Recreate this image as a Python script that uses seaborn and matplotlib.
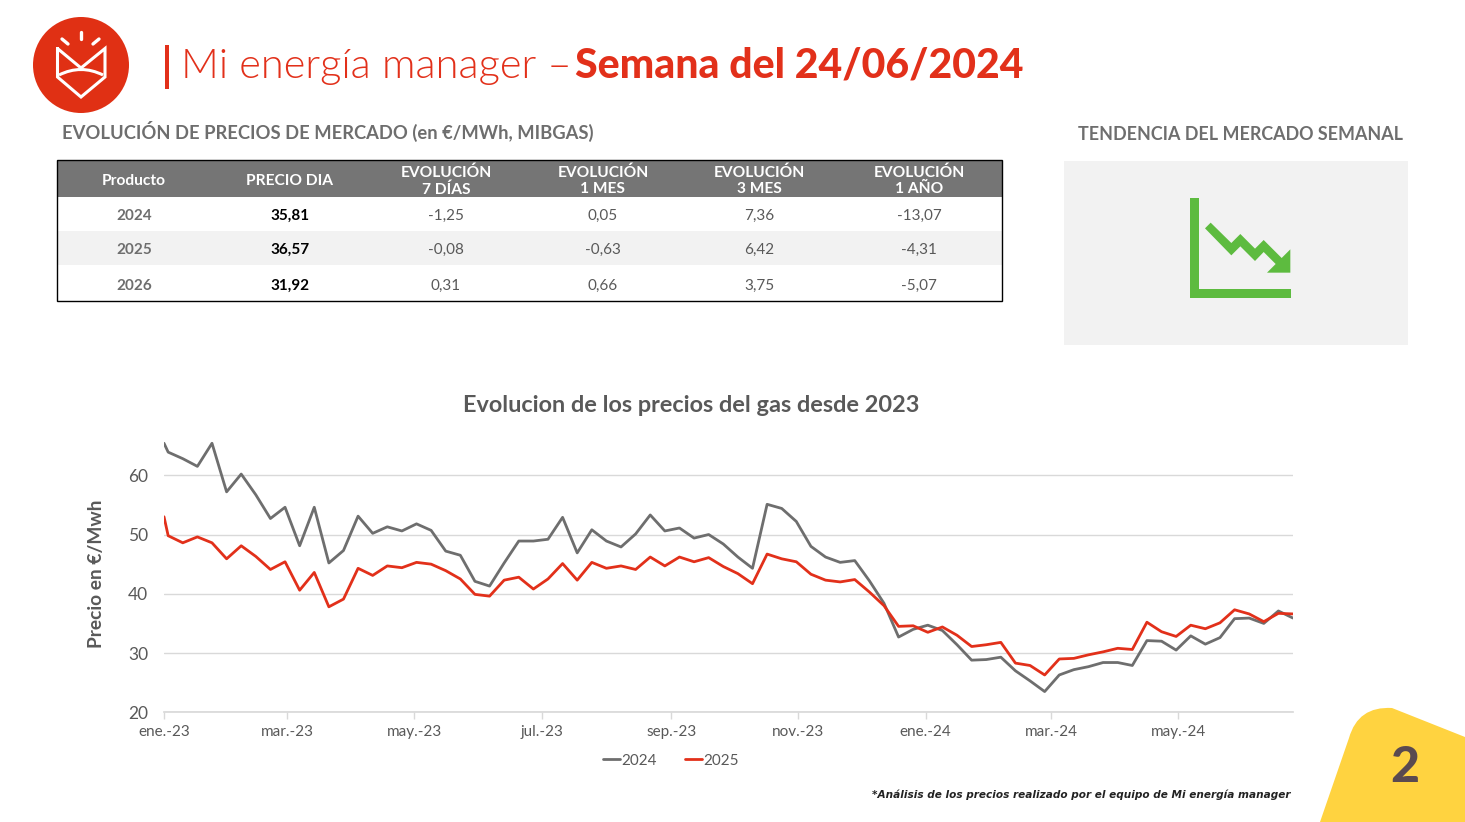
import matplotlib
matplotlib.use('Agg')
import matplotlib.pyplot as plt
from matplotlib.patches import Circle, Polygon, Rectangle, PathPatch
from matplotlib.path import Path
import seaborn as sns
import pandas as pd

##################################
# data

first_date = '2023-01-01'
week_start = '2023-01-03'

prices_2024 = [65.4, 63.9, 62.8, 61.5, 65.4, 57.2, 60.2, 56.7, 52.7, 54.6,
               48.1, 54.6, 45.2, 47.3, 53.1, 50.2, 51.3, 50.6, 51.8, 50.7,
               47.2, 46.5, 42.1, 41.3, 45.2, 48.9, 48.9, 49.2, 52.9, 46.9,
               50.8, 48.9, 47.9, 50.1, 53.3, 50.6, 51.1, 49.4, 50.0, 48.4,
               46.2, 44.3, 55.1, 54.4, 52.2, 48.0, 46.2, 45.3, 45.6, 42.2,
               38.4, 32.7, 34.0, 34.7, 33.8, 31.4, 28.8, 28.9, 29.3, 27.0,
               25.3, 23.5, 26.3, 27.2, 27.7, 28.4, 28.4, 27.9, 32.1, 32.0,
               30.5, 32.9, 31.5, 32.6, 35.8, 35.9, 35.0, 37.1, 35.9]

prices_2025 = [53.0, 49.8, 48.6, 49.6, 48.6, 45.9, 48.1, 46.3, 44.1, 45.4,
               40.6, 43.6, 37.8, 39.1, 44.3, 43.1, 44.7, 44.4, 45.3, 45.0,
               43.9, 42.5, 39.9, 39.6, 42.3, 42.8, 40.8, 42.5, 45.1, 42.3,
               45.3, 44.3, 44.7, 44.1, 46.2, 44.7, 46.2, 45.4, 46.1, 44.6,
               43.4, 41.7, 46.7, 45.9, 45.4, 43.3, 42.3, 42.0, 42.4, 40.3,
               38.0, 34.5, 34.6, 33.5, 34.4, 33.0, 31.1, 31.4, 31.8, 28.3,
               27.9, 26.3, 29.0, 29.1, 29.7, 30.2, 30.8, 30.6, 35.2, 33.6,
               32.8, 34.7, 34.1, 35.1, 37.3, 36.6, 35.3, 36.7, 36.6]

month_ticks = ['2023-01-01', '2023-03-01', '2023-05-01', '2023-07-01', '2023-09-01',
               '2023-11-01', '2024-01-01', '2024-03-01', '2024-05-01']
month_labels = ['ene.-23', 'mar.-23', 'may.-23', 'jul.-23', 'sep.-23',
                'nov.-23', 'ene.-24', 'mar.-24', 'may.-24']
y_ticks = [20, 30, 40, 50, 60]

table_header = ['Producto', 'PRECIO DIA', 'EVOLUCIÓN\n7 DÍAS', 'EVOLUCIÓN\n1 MES',
                'EVOLUCIÓN\n3 MES', 'EVOLUCIÓN\n1 AÑO']
table_rows = [['2024', '35,81', '-1,25', '0,05', '7,36', '-13,07'],
              ['2025', '36,57', '-0,08', '-0,63', '6,42', '-4,31'],
              ['2026', '31,92', '0,31', '0,66', '3,75', '-5,07']]

##################################

RED = '#E2301A'
GRAY = '#6E6E6E'
TEXT = '#595959'
W, H = 1465, 822

sns.set_theme(style='white')
plt.rcParams['font.family'] = ['Lato', 'DejaVu Sans']

fig = plt.figure(figsize=(W / 100, H / 100), dpi=100)

# page layer in pixel coordinates
bg = fig.add_axes([0, 0, 1, 1])
bg.set_xlim(0, W)
bg.set_ylim(H, 0)
bg.axis('off')


def draw_logo(ax):
    ax.add_patch(Circle((81, 65), 48, color='#E03014', lw=0))
    crown = [(57.5, 48.5), (57.5, 77), (81, 97), (105, 77), (105, 48.5), (81, 68), (57.5, 48.5)]
    ax.plot(*zip(*crown), color='white', lw=2.2, solid_joinstyle='miter')
    for ray in [[(62, 39), (68, 44)], [(81, 32), (81, 39)], [(93, 44), (99, 39)]]:
        ax.plot(*zip(*ray), color='white', lw=2.4, solid_capstyle='round')
    arc = Path([(59, 75), (81, 64), (103, 75)], [Path.MOVETO, Path.CURVE3, Path.CURVE3])
    ax.add_patch(PathPatch(arc, fc='none', ec='white', lw=2.2))


def draw_table(ax):
    centers = [134, 290, 446, 603, 759, 919]
    row_y = [216, 250, 286]
    ax.add_patch(Rectangle((57, 160), 945, 37, color='#757575', lw=0))
    ax.add_patch(Rectangle((57, 231), 945, 34, color='#F2F2F2', lw=0))
    ax.add_patch(Rectangle((57, 160.5), 945, 140.5, fc='none', ec='black', lw=1))
    for x, label in zip(centers, table_header):
        ax.text(x, 181, label, color='white', fontsize=11.2, fontweight='bold',
                ha='center', va='center', linespacing=1.2)
    for y, row in zip(row_y, table_rows):
        for j, (x, value) in enumerate(zip(centers, row)):
            color = GRAY if j == 0 else ('black' if j == 1 else TEXT)
            weight = 'bold' if j < 2 else 'normal'
            ax.text(x, y, value, color=color, fontsize=11, fontweight=weight,
                    ha='center', va='center')


def draw_trend_icon(ax):
    ax.add_patch(Rectangle((1064, 161), 344, 184, color='#F2F2F2', lw=0))
    green = '#5DBB3F'
    ax.add_patch(Rectangle((1190, 197.5), 9, 100.5, color=green, lw=0))
    ax.add_patch(Rectangle((1190, 289), 100.5, 9, color=green, lw=0))
    arrow = [(135, 175), (152, 158), (214, 219), (241, 192), (285, 236), (311, 210),
             (365, 264), (391, 238), (391, 308), (321, 308), (347, 282), (311, 246),
             (285, 273), (241, 229), (214, 256)]
    ax.add_patch(Polygon([(1160 + x / 3, 170 + y / 3) for x, y in arrow], color=green, lw=0))


def draw_corner(ax):
    verts = [(1320, 822), (1349, 738), (1358, 706), (1392, 708), (1465, 737), (1465, 822), (1320, 822)]
    codes = [Path.MOVETO, Path.LINETO, Path.CURVE3, Path.CURVE3, Path.LINETO, Path.LINETO, Path.CLOSEPOLY]
    ax.add_patch(PathPatch(Path(verts, codes), fc='#FFD340', ec='none'))
    ax.text(1405, 767, '2', color='#5A4A50', fontsize=36, fontweight='black', ha='center', va='center')


draw_logo(bg)
bg.add_patch(Rectangle((165, 45), 3.5, 44, color=RED, lw=0))
bg.text(181, 78, 'Mi energía manager –', color=RED, fontsize=30, fontweight=300, va='baseline')
bg.text(575, 78, 'Semana del 24/06/2024', color=RED, fontsize=29.5, fontweight='black', va='baseline')
bg.text(62, 131, 'EVOLUCIÓN DE PRECIOS DE MERCADO (en €/MWh, MIBGAS)', color=GRAY,
        fontsize=13.2, fontweight='bold', va='center')
bg.text(1240, 134, 'TENDENCIA DEL MERCADO SEMANAL', color=GRAY, fontsize=12.9,
        fontweight='bold', va='center', ha='center')
draw_table(bg)
draw_trend_icon(bg)
draw_corner(bg)
bg.text(691, 405, 'Evolucion de los precios del gas desde 2023', color=TEXT, fontsize=16.9,
        fontweight='bold', ha='center', va='center')
bg.text(1291, 795, '*Análisis de los precios realizado por el equipo de Mi energía manager',
        color='#222222', fontsize=7.6, family='DejaVu Sans', fontweight='bold', style='italic',
        ha='right', va='center')

# price chart
dates = [pd.Timestamp(first_date)] + list(pd.date_range(week_start, periods=len(prices_2024) - 1, freq='7D'))
df = pd.DataFrame({'fecha': dates, '2024': prices_2024, '2025': prices_2025})
df = df.melt(id_vars='fecha', var_name='producto', value_name='precio')

top, bottom = 416, 712.3
ax = fig.add_axes([164 / W, 1 - bottom / H, (1293 - 164) / W, (bottom - top) / H])
ax.patch.set_alpha(0)
sns.lineplot(data=df, x='fecha', y='precio', hue='producto', palette=[GRAY, RED],
             lw=2.0, ax=ax)
ax.set_xlim(pd.Timestamp(first_date), pd.Timestamp('2024-06-25'))
ax.set_ylim(20, 70)
ax.set_yticks(y_ticks)
ax.set_xticks(pd.to_datetime(month_ticks))
ax.set_xticklabels(month_labels, fontsize=11, color=TEXT)
ax.tick_params(axis='x', length=5, width=1, color='#D9D9D9', bottom=True, pad=4)
ax.tick_params(axis='y', length=0, labelsize=12.5, labelcolor=TEXT, pad=11.5)
ax.grid(axis='y', color='#D9D9D9', lw=1)
ax.set_axisbelow(True)
for side in ['top', 'right', 'left']:
    ax.spines[side].set_visible(False)
ax.spines['bottom'].set_color('#D9D9D9')
ax.set_xlabel('')
ax.set_ylabel('Precio en €/Mwh', fontsize=13.8, fontweight='bold', color=TEXT)
ax.yaxis.set_label_coords((105 - 164) / (1293 - 164), (bottom - 574) / (bottom - top))

sns.move_legend(ax, 'center', bbox_to_anchor=((671 - 164) / (1293 - 164), -(760.5 - bottom) / (bottom - top)),
                ncol=2, frameon=False, title=None, fontsize=11, handlelength=1.1, handletextpad=0.1,
                columnspacing=1.85, labelcolor=TEXT)

plt.savefig('out.png', dpi=100)
